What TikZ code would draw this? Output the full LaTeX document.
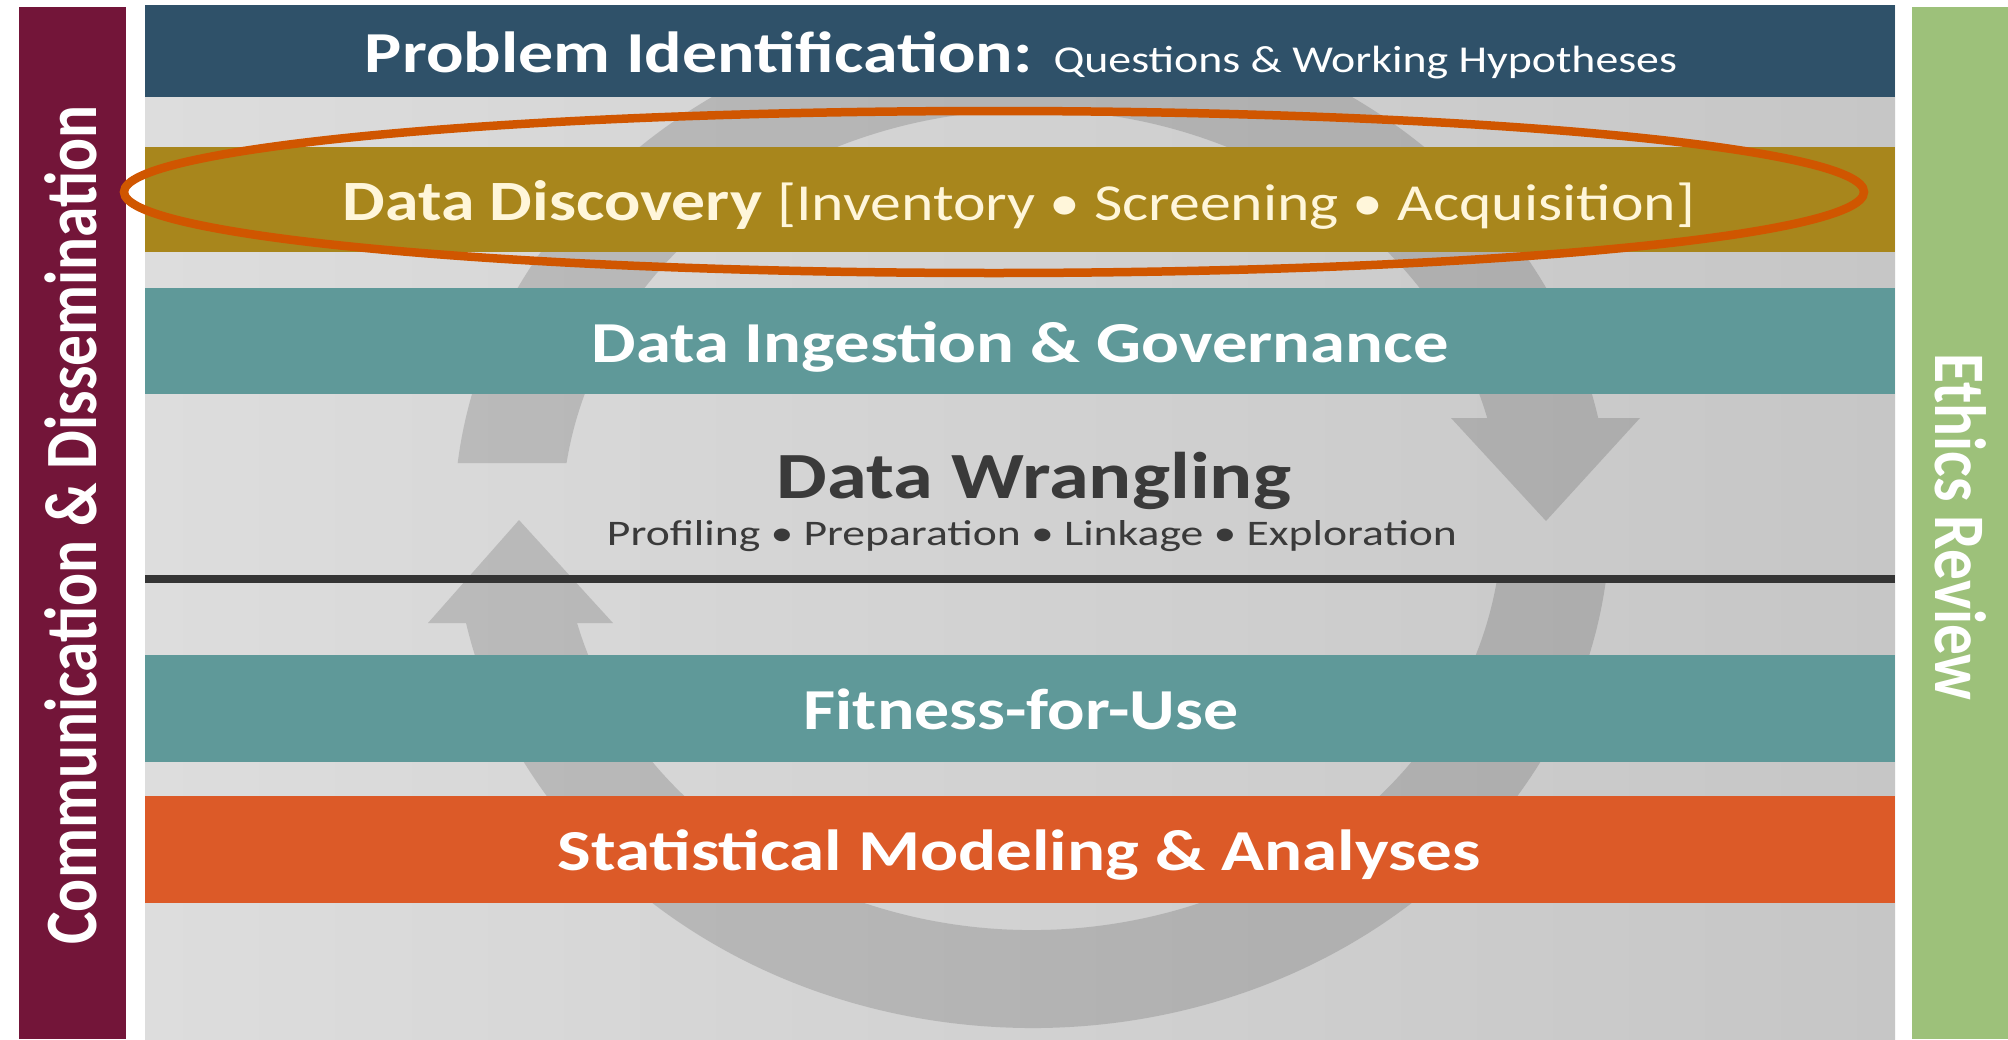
\documentclass[tikz,border=0pt]{standalone}
\usepackage{fontspec}
\setmainfont{Carlito}
\usepackage{graphicx}
\usetikzlibrary{calc}
\definecolor{topblue}{HTML}{2F5169}
\definecolor{discgold}{HTML}{A8861C}
\definecolor{tealband}{HTML}{5F9999}
\definecolor{orangeband}{HTML}{DC5A28}
\definecolor{maroonbar}{HTML}{731539}
\definecolor{greenbar}{HTML}{9DC17A}
\definecolor{ovalc}{HTML}{D05600}
\definecolor{darktext}{HTML}{3A3A3A}
\definecolor{cream}{HTML}{FFF6DA}
\definecolor{panelL}{HTML}{DDDDDD}
\definecolor{panelR}{HTML}{C6C6C6}
\newcommand\myfs[1]{\fontsize{#1}{#1}\selectfont}
\tikzset{
  band/.style={rectangle, inner sep=0pt, outer sep=0pt, minimum width=1750pt, anchor=north west},
  sidebar/.style={rectangle, inner sep=0pt, outer sep=0pt, anchor=north west},
  lbl/.style={inner sep=0pt, outer sep=0pt, anchor=base, text=white},
  ringpart/.style={fill=black},
}
\begin{document}
\begin{tikzpicture}[x=1pt,y=1pt]
\useasboundingbox (0,0) rectangle (2008,-1039);
\fill[white] (0,0) rectangle (2008,-1039);

% side bars
\node[sidebar, fill=maroonbar, minimum width=107pt, minimum height=1032pt] (comm) at (19,-7) {};
\node[sidebar, fill=greenbar, minimum width=96pt, minimum height=1032pt] (ethics) at (1912,-7) {};

% main panel
\node[sidebar, left color=panelL, right color=panelR, minimum width=1750pt, minimum height=1034pt] (panel) at (145,-5) {};

% circular arrow in background
\coordinate (rc) at (1032,-520);
\begin{scope}[transparency group, opacity=0.14]
\fill[ringpart] ($(rc)+(173.56:578 and 508)$) arc[start angle=173.56, end angle=11.58, x radius=578, y radius=508]
  -- ($(rc)+(14.4:470 and 410)$) arc[start angle=14.4, end angle=172.01, x radius=470, y radius=410] -- cycle;
\fill[ringpart] (1451,-418) -- (1640,-418) -- (1546,-521) -- cycle;
\fill[ringpart] ($(rc)+(-7.12:578 and 508)$) arc[start angle=-7.12, end angle=-168.3, x radius=578, y radius=508]
  -- ($(rc)+(-165.45:470 and 410)$) arc[start angle=-165.45, end angle=-8.84, x radius=470, y radius=410] -- cycle;
\fill[ringpart] (428,-623) -- (613,-623) -- (519,-520) -- cycle;
\end{scope}

% bands
\node[band, fill=topblue, minimum height=92pt] (prob) at (145,-5) {};
\node[band, fill=discgold, minimum height=105pt] (disc) at (145,-147) {};
\node[band, fill=tealband, minimum height=106pt] (ingest) at (145,-288) {};
\node[band, fill=tealband, minimum height=107pt] (fit) at (145,-655) {};
\node[band, fill=orangeband, minimum height=107pt] (stat) at (145,-796) {};

% divider line
\coordinate (divL) at (145,-579);
\coordinate (divR) at (1895,-579);
\draw[line width=8pt, darktext!90!black] (divL) -- (divR);

% labels
\node[lbl] (tprob) at (1021,-72) {\resizebox{1312pt}{\height}{\myfs{58}\bfseries Problem Identification: \mdseries\myfs{38}Questions \& Working Hypotheses}};
\node[lbl, text=cream] (tdisc) at (1019,-220) {\resizebox{1352pt}{\height}{\myfs{57}\bfseries Data Discovery \mdseries\myfs{52}[Inventory • Screening • Acquisition]}};
\node[lbl] (tingest) at (1020,-362) {\resizebox{857pt}{\height}{\myfs{58}\bfseries Data Ingestion \& Governance}};
\node[lbl, text=darktext] (twrang) at (1034,-498) {\resizebox{514pt}{\height}{\myfs{66}\bfseries Data Wrangling}};
\node[lbl, text=darktext] (twsub) at (1032,-545) {\resizebox{850pt}{\height}{\myfs{36}Profiling • Preparation • Linkage • Exploration}};
\node[lbl] (tfit) at (1021,-729) {\resizebox{435pt}{\height}{\myfs{58}\bfseries Fitness-for-Use}};
\node[lbl] (tstat) at (1019,-870) {\resizebox{923pt}{\height}{\myfs{58}\bfseries Statistical Modeling \& Analyses}};
\node[lbl, rotate=90] (tcomm) at (96,-525) {\resizebox{839pt}{1.19\height}{\myfs{62}\bfseries Communication \& Dissemination}};
\node[lbl, rotate=-90] (tethics) at (1935,-527) {\resizebox{347pt}{1.19\height}{\myfs{61}\bfseries Ethics Review}};

% highlight oval
\draw[ovalc, line width=8.5pt] (994,-192) ellipse [x radius=870, y radius=81];
\end{tikzpicture}
\end{document}
